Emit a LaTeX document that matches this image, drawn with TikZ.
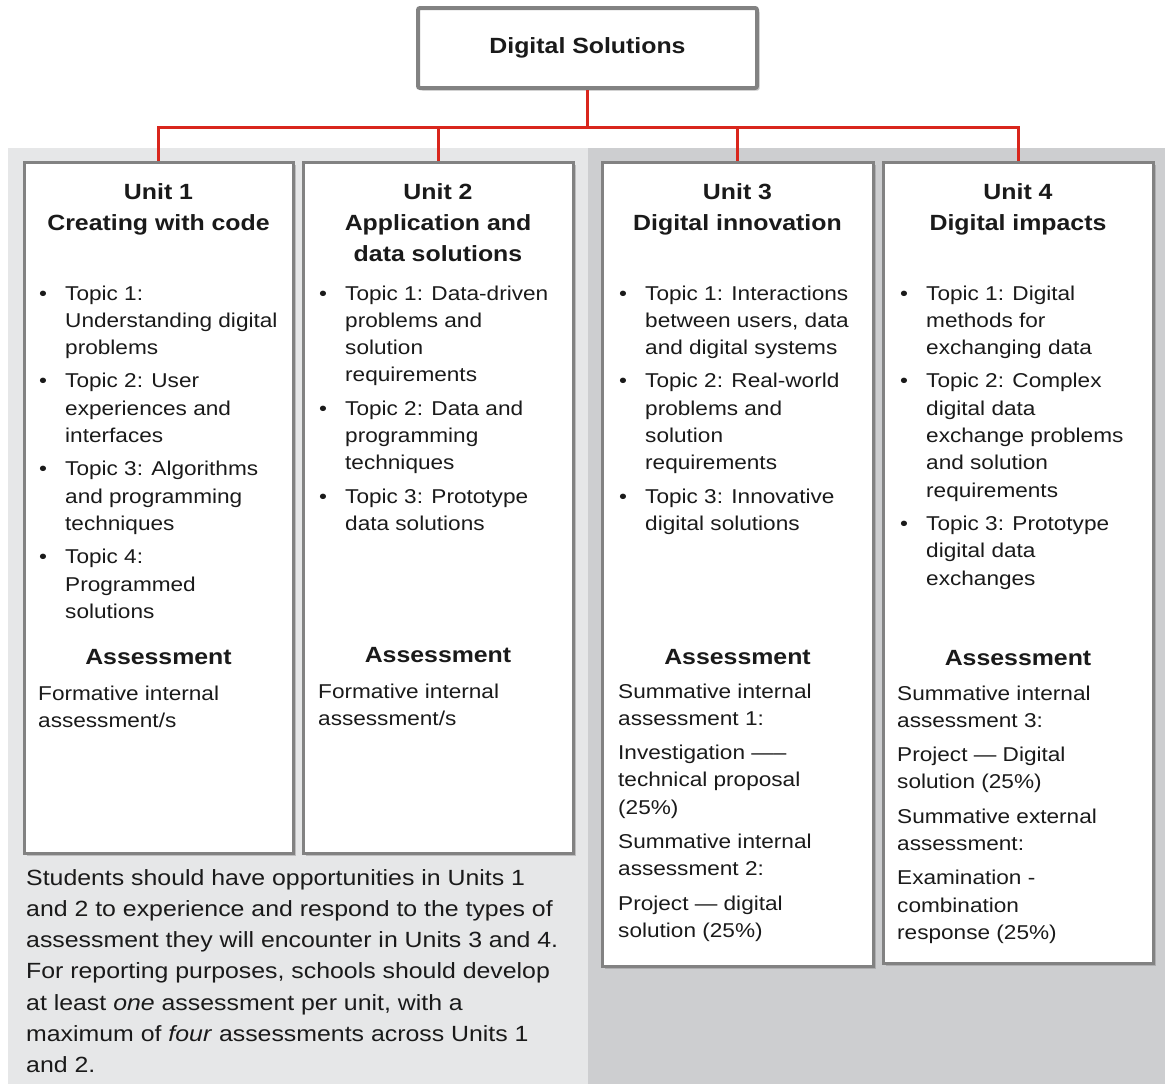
\documentclass[tikz,border=0pt]{standalone}
\usepackage{fontspec}
\setmainfont{Liberation Sans}[FakeStretch=1.13]
\usetikzlibrary{shadows}
\definecolor{dsred}{HTML}{D9261C}
\definecolor{dsgrey}{HTML}{828282}
\definecolor{panelA}{HTML}{E6E7E8}
\definecolor{panelB}{HTML}{CDCED0}
\definecolor{dstext}{HTML}{1A1A1A}
\newcommand{\dsbody}{\fontsize{20}{27.3}\selectfont}
\newcommand{\dshead}{\fontsize{22}{31}\selectfont\bfseries}
\newcommand{\dsgap}{\\[6pt]}
\newcommand{\topics}[1]{\dsbody\begin{tabular}[t]{@{}p{26pt}@{}l@{}}#1\end{tabular}}
\newcommand{\assess}[1]{\dsbody\begin{tabular}[t]{@{}l@{}}#1\end{tabular}}
\newcommand{\unitttl}[1]{\begin{tabular}[t]{@{}c@{}}#1\end{tabular}}

\begin{document}
\begin{tikzpicture}[x=1pt,y=-1pt,
  box/.style={draw=dsgrey,line width=2.5pt,fill=white,anchor=north west,inner sep=0pt,
    drop shadow={shadow xshift=2.5pt,shadow yshift=-2.5pt,opacity=0.4}},
  txt/.style={inner sep=0pt,text=dstext,anchor=base west},
  ttl/.style={inner sep=0pt,text=dstext,anchor=base,font=\dshead},
  link/.style={draw=dsred,line width=3pt}]

\useasboundingbox (0,0) rectangle (1165,1084);
\fill[panelA] (8,148) rectangle (588,1084);
\fill[panelB] (588,148) rectangle (1165,1084);

% top and unit boxes
\node[box,line width=4pt,rounded corners=2pt,minimum width=339pt,minimum height=80pt,
  font=\dshead,text=dstext] (ds) at (416,6) {Digital Solutions};
\node[box,minimum width=269pt,minimum height=691pt] (u1) at (23,161) {};
\node[box,minimum width=270pt,minimum height=691pt] (u2) at (302,161) {};
\node[box,minimum width=271pt,minimum height=804pt] (u3) at (601,161) {};
\node[box,minimum width=270pt,minimum height=801pt] (u4) at (882,161) {};

% connectors
\draw[link] (ds.south) -- ++(0,37) coordinate (bus);
\foreach \u in {u1,u2,u3,u4}
  \draw[link] (bus) -| (\u.north);

% unit 1
\node[ttl] (t1) at (158.5,199) {\unitttl{Unit 1\\Creating with code}};
\node[txt] (p1) at (39,300) {\topics{%
  \textbullet & Topic 1:\\ & Understanding digital\\ & problems\dsgap
  \textbullet & Topic 2: User\\ & experiences and\\ & interfaces\dsgap
  \textbullet & Topic 3: Algorithms\\ & and programming\\ & techniques\dsgap
  \textbullet & Topic 4:\\ & Programmed\\ & solutions}};
\node[ttl] (a1) at (158.5,664) {Assessment};
\node[txt] (f1) at (38,700) {\assess{Formative internal\\assessment/s}};

% unit 2
\node[ttl] (t2) at (438,199) {\unitttl{Unit 2\\Application and\\data solutions}};
\node[txt] (p2) at (319,300) {\topics{%
  \textbullet & Topic 1: Data-driven\\ & problems and\\ & solution\\ & requirements\dsgap
  \textbullet & Topic 2: Data and\\ & programming\\ & techniques\dsgap
  \textbullet & Topic 3: Prototype\\ & data solutions}};
\node[ttl] (a2) at (438,662) {Assessment};
\node[txt] (f2) at (318,698) {\assess{Formative internal\\assessment/s}};

% unit 3
\node[ttl] (t3) at (737.5,199) {\unitttl{Unit 3\\Digital innovation}};
\node[txt] (p3) at (619,300) {\topics{%
  \textbullet & Topic 1: Interactions\\ & between users, data\\ & and digital systems\dsgap
  \textbullet & Topic 2: Real-world\\ & problems and\\ & solution\\ & requirements\dsgap
  \textbullet & Topic 3: Innovative\\ & digital solutions}};
\node[ttl] (a3) at (737.5,664) {Assessment};
\node[txt] (f3) at (618,698) {\assess{%
  Summative internal\\assessment 1:\\[7pt]
  Investigation —–\\technical proposal\\(25\%)\\[7pt]
  Summative internal\\assessment 2:\\[7pt]
  Project — digital\\solution (25\%)}};

% unit 4
\node[ttl] (t4) at (1018,199) {\unitttl{Unit 4\\Digital impacts}};
\node[txt] (p4) at (900,300) {\topics{%
  \textbullet & Topic 1: Digital\\ & methods for\\ & exchanging data\dsgap
  \textbullet & Topic 2: Complex\\ & digital data\\ & exchange problems\\ & and solution\\ & requirements\dsgap
  \textbullet & Topic 3: Prototype\\ & digital data\\ & exchanges}};
\node[ttl] (a4) at (1018,665) {Assessment};
\node[txt] (f4) at (897,700) {\assess{%
  Summative internal\\assessment 3:\\[7pt]
  Project — Digital\\solution (25\%)\\[7pt]
  Summative external\\assessment:\\[7pt]
  Examination -\\combination\\response (25\%)}};

% note under units 1 and 2
\node[txt] (note) at (26,885) {\fontsize{22}{31.3}\selectfont\begin{tabular}[t]{@{}l@{}}
  Students should have opportunities in Units 1\\
  and 2 to experience and respond to the types of\\
  assessment they will encounter in Units 3 and 4.\\
  For reporting purposes, schools should develop\\
  at least \emph{one} assessment per unit, with a\\
  maximum of \emph{four} assessments across Units 1\\
  and 2.\end{tabular}};
\end{tikzpicture}
\end{document}
